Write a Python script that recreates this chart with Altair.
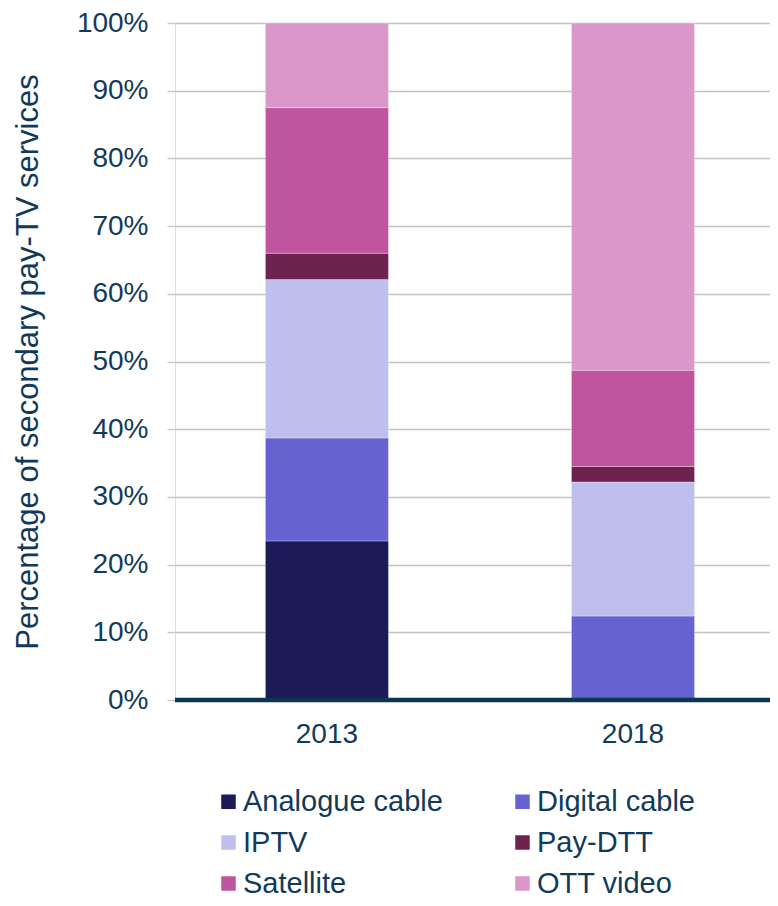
import altair as alt
import pandas as pd

years = ["2013", "2018"]
services = ["Analogue cable", "Digital cable", "IPTV", "Pay-DTT", "Satellite", "OTT video"]
colors = ["#1C1A57", "#6762D2", "#BFBEEC", "#6E234F", "#BF559E", "#DA97C9"]
share_2013 = [23.5, 15.2, 23.4, 3.9, 21.5, 12.5]
share_2018 = [0.0, 12.4, 19.8, 2.3, 14.2, 51.3]

rows = []
for i, s in enumerate(services):
    rows.append({"year": "2013", "service": s, "idx": i, "value": share_2013[i] / 100})
    rows.append({"year": "2018", "service": s, "idx": i, "value": share_2018[i] / 100})
df = pd.DataFrame(rows)

TXT = "#113A5A"
FONT = "Liberation Sans"

chart = alt.Chart(df).mark_bar(stroke="white", strokeWidth=0.6, strokeOpacity=0.5).encode(
    x=alt.X("year:N", sort=years,
            scale=alt.Scale(paddingInner=0.598, paddingOuter=0.271, align=0.545),
            axis=alt.Axis(title=None, labelAngle=0, ticks=False, domain=False,
                          labelFontSize=28, labelColor=TXT, labelPadding=20,
                          labelFont=FONT)),
    y=alt.Y("value:Q", stack="zero",
            scale=alt.Scale(domain=[0, 1], nice=False),
            axis=alt.Axis(title="Percentage of secondary pay-TV services", format=".0%",
                          values=[i / 10 for i in range(11)],
                          titleFontSize=31, titleFont=FONT, titleColor=TXT,
                          titleFontWeight="normal", titlePadding=32,
                          labelFontSize=28, labelFont=FONT, labelColor=TXT,
                          labelPadding=19, tickColor="#C8C8C8", tickSize=8, tickWidth=1.5,
                          domain=False, grid=True, gridColor="#C4C4C4", gridWidth=1.5)),
    color=alt.Color("service:N", sort=services,
                    scale=alt.Scale(domain=services, range=colors),
                    legend=alt.Legend(title=None, orient="none", legendX=39, legendY=764,
                                      direction="horizontal",
                                      columns=2, columnPadding=65, rowPadding=11,
                                      symbolType="square", symbolSize=210,
                                      symbolStrokeWidth=0, symbolOpacity=1,
                                      labelFontSize=29, labelFont=FONT,
                                      labelColor=TXT, labelOffset=0, labelLimit=400,
                                      padding=0)),
    order=alt.Order("idx:Q", sort="ascending"),
)

baseline = alt.Chart(pd.DataFrame({"y": [0]})).mark_rule(color="#0B3552", strokeWidth=4.5).encode(
    y=alt.Y("y:Q")
)

final = alt.layer(chart, baseline).properties(
    width=595, height=677,
    autosize=alt.AutoSizeParams(type="none"),
    padding={"left": 167, "top": 15, "right": 0, "bottom": 198},
).configure_view(stroke=None).configure(background="white")

final.save("out.html", embed_options={"renderer": "svg", "actions": False})
